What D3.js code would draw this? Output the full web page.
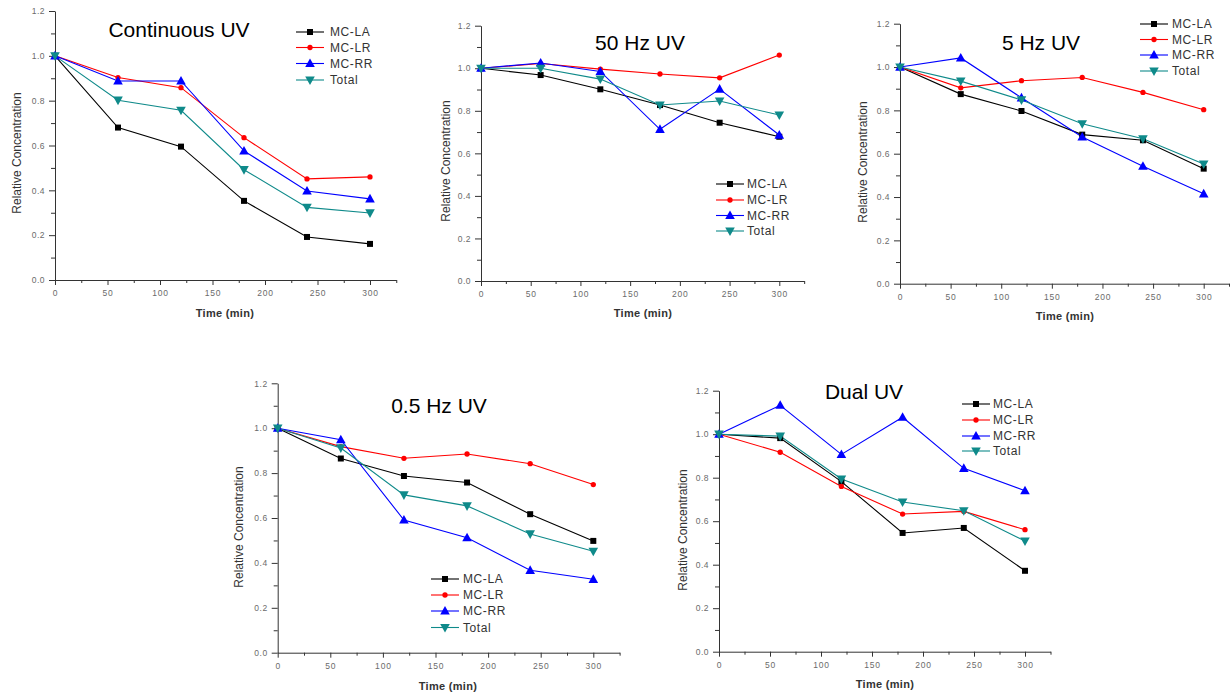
<!DOCTYPE html>
<html>
<head>
<meta charset="utf-8">
<script src="https://cdn.jsdelivr.net/npm/d3@7"></script>
<style>
  html, body { margin: 0; padding: 0; background: #fff; }
  svg { display: block; font-family: "Liberation Sans", Arial, sans-serif; }
</style>
</head>
<body>
<svg id="chart" width="1231" height="698"></svg>
<script>
// ---- data ----
const times = [0, 60, 120, 180, 240, 300];
const seriesNames = ["MC-LA", "MC-LR", "MC-RR", "Total"];
const panelTitles = ["Continuous UV", "50 Hz UV", "5 Hz UV", "0.5 Hz UV", "Dual UV"];
const xTicks = [0, 50, 100, 150, 200, 250, 300];
const xMinorTicks = [25, 75, 125, 175, 225, 275, 325];
const yTicks = [0, 0.2, 0.4, 0.6, 0.8, 1.0, 1.2];
const yMinorTicks = [0.1, 0.3, 0.5, 0.7, 0.9, 1.1];
const yLabel = "Relative Concentration";
const xLabel = "Time (min)";

const contLA    = [1.0, 0.680, 0.595, 0.353, 0.192, 0.161];
const contLR    = [1.0, 0.903, 0.858, 0.635, 0.451, 0.460];
const contRR    = [1.0, 0.888, 0.888, 0.576, 0.397, 0.362];
const contTotal = [1.0, 0.802, 0.757, 0.492, 0.324, 0.299];

const hz50LA    = [1.0, 0.968, 0.901, 0.827, 0.744, 0.678];
const hz50LR    = [1.0, 1.022, 0.996, 0.973, 0.955, 1.062];
const hz50RR    = [1.0, 1.025, 0.985, 0.713, 0.902, 0.686];
const hz50Total = [1.0, 1.000, 0.949, 0.827, 0.846, 0.780];

const hz5LA     = [1.0, 0.875, 0.797, 0.688, 0.662, 0.531];
const hz5LR     = [1.0, 0.904, 0.937, 0.952, 0.883, 0.803];
const hz5RR     = [1.0, 1.042, 0.858, 0.677, 0.542, 0.415];
const hz5Total  = [1.0, 0.935, 0.848, 0.738, 0.669, 0.552];

const hz05LA    = [1.0, 0.865, 0.787, 0.758, 0.617, 0.498];
const hz05LR    = [1.0, 0.918, 0.866, 0.885, 0.842, 0.749];
const hz05RR    = [1.0, 0.949, 0.591, 0.512, 0.367, 0.327];
const hz05Total = [1.0, 0.912, 0.703, 0.654, 0.529, 0.452];

const dualLA    = [1.0, 0.982, 0.782, 0.546, 0.569, 0.372];
const dualLR    = [1.0, 0.917, 0.760, 0.633, 0.645, 0.561];
const dualRR    = [1.0, 1.133, 0.907, 1.078, 0.843, 0.740];
const dualTotal = [1.0, 0.991, 0.794, 0.688, 0.648, 0.509];

// ---- styles / layout ----
const colors = ["#000000", "#ff0000", "#0000ff", "#0f8a8a"];
const markers = ["square", "circle", "triUp", "triDown"];

const panels = [
  { title: panelTitles[0], data: [contLA, contLR, contRR, contTotal],
    x0: 55, x300: 370, yb: 280, yt: 11,
    titlePos: [179, 37], yLab: [17, 153], xLab: [225, 313],
    legend: { lx: 296, tx: 330, ys: [32, 47.5, 63.5, 80] } },
  { title: panelTitles[1], data: [hz50LA, hz50LR, hz50RR, hz50Total],
    x0: 481, x300: 779.3, yb: 281, yt: 25.7,
    titlePos: [640, 50], yLab: [446, 161], xLab: [643, 313],
    legend: { lx: 716, tx: 747, ys: [184, 200, 215.5, 231] } },
  { title: panelTitles[2], data: [hz5LA, hz5LR, hz5RR, hz5Total],
    x0: 900, x300: 1203.7, yb: 283.7, yt: 23.7,
    titlePos: [1041, 50], yLab: [863, 162], xLab: [1065, 316],
    legend: { lx: 1140, tx: 1172, ys: [24, 39.5, 55, 71] } },
  { title: panelTitles[3], data: [hz05LA, hz05LR, hz05RR, hz05Total],
    x0: 277.7, x300: 593.3, yb: 652.7, yt: 383.3,
    titlePos: [439, 412.5], yLab: [238.5, 527], xLab: [448, 686],
    legend: { lx: 431, tx: 463, ys: [579, 595, 611, 627.5] } },
  { title: panelTitles[4], data: [dualLA, dualLR, dualRR, dualTotal],
    x0: 719, x300: 1025, yb: 651.7, yt: 390.7,
    titlePos: [864, 399], yLab: [682.5, 530], xLab: [885, 684],
    legend: { lx: 962, tx: 993, ys: [404, 420, 436, 451] } }
];

const svg = d3.select("#chart");

function markerPath(type) {
  if (type === "square") return "M-3,-3H3V3H-3Z";
  if (type === "circle") return d3.symbol(d3.symbolCircle, 22)();
  if (type === "triUp") return "M0,-5L4.8,3.6L-4.8,3.6Z";
  return "M0,5L4.8,-3.6L-4.8,-3.6Z";
}

panels.forEach(p => {
  const k = (p.x300 - p.x0) / 300;
  const x = d3.scaleLinear().domain([0, 325]).range([p.x0, p.x0 + 325 * k]);
  const y = d3.scaleLinear().domain([0, 1.2]).range([p.yb, p.yt]);
  const g = svg.append("g");

  // x axis minor
  g.append("g").attr("transform", `translate(0,${p.yb})`)
    .call(d3.axisBottom(x).tickValues(xMinorTicks).tickSize(3).tickFormat(""))
    .call(s => s.select(".domain").remove())
    .call(s => s.selectAll("line").attr("stroke", "#333"));
  // x axis major
  const xa = g.append("g").attr("transform", `translate(0,${p.yb})`)
    .call(d3.axisBottom(x).tickValues(xTicks).tickSize(5).tickSizeOuter(0).tickPadding(5).tickFormat(d3.format("d")));
  xa.select(".domain").attr("stroke", "#333");
  xa.selectAll("line").attr("stroke", "#333");
  xa.selectAll("text").attr("fill", "#6b6b6b").style("font-size", "8.5px").style("letter-spacing", "0.8px");

  // y axis minor
  g.append("g").attr("transform", `translate(${p.x0},0)`)
    .call(d3.axisLeft(y).tickValues(yMinorTicks).tickSize(4).tickFormat(""))
    .call(s => s.select(".domain").remove())
    .call(s => s.selectAll("line").attr("stroke", "#333"));
  // y axis major
  const ya = g.append("g").attr("transform", `translate(${p.x0},0)`)
    .call(d3.axisLeft(y).tickValues(yTicks).tickSize(6).tickSizeOuter(0).tickPadding(4).tickFormat(d3.format(".1f")));
  ya.select(".domain").attr("stroke", "#333");
  ya.selectAll("line").attr("stroke", "#333");
  ya.selectAll("text").attr("fill", "#6b6b6b").style("font-size", "8.5px").style("letter-spacing", "0.5px");

  // axis labels
  g.append("text")
    .attr("transform", `translate(${p.yLab[0]},${p.yLab[1]}) rotate(-90)`)
    .attr("text-anchor", "middle").attr("dominant-baseline", "central")
    .attr("fill", "#333").style("font-size", "12px")
    .text(yLabel);
  g.append("text")
    .attr("x", p.xLab[0]).attr("y", p.xLab[1])
    .attr("text-anchor", "middle").attr("dominant-baseline", "central")
    .attr("fill", "#333").style("font-size", "11px").style("font-weight", "bold")
    .style("letter-spacing", "0.3px")
    .text(xLabel);

  // title
  g.append("text")
    .attr("x", p.titlePos[0]).attr("y", p.titlePos[1])
    .attr("text-anchor", "middle")
    .attr("fill", "#000").style("font-size", "21px")
    .text(p.title);

  // series
  const line = d3.line().x((d, i) => x(times[i])).y(d => y(d));
  p.data.forEach((vals, si) => {
    g.append("path").datum(vals)
      .attr("d", line).attr("fill", "none")
      .attr("stroke", colors[si]).attr("stroke-width", 1.1);
  });
  p.data.forEach((vals, si) => {
    g.selectAll(null).data(vals).enter().append("path")
      .attr("transform", (d, i) => `translate(${x(times[i])},${y(d)})`)
      .attr("d", markerPath(markers[si]))
      .attr("fill", colors[si]);
  });

  // legend
  const L = p.legend;
  seriesNames.forEach((name, si) => {
    const ly = L.ys[si];
    g.append("line").attr("x1", L.lx).attr("x2", L.lx + 28)
      .attr("y1", ly).attr("y2", ly)
      .attr("stroke", colors[si]).attr("stroke-width", 1.1);
    g.append("path")
      .attr("transform", `translate(${L.lx + 14},${ly})`)
      .attr("d", markerPath(markers[si]))
      .attr("fill", colors[si]);
    g.append("text").attr("x", L.tx).attr("y", ly)
      .attr("dominant-baseline", "central")
      .attr("fill", "#333").style("font-size", "12px").style("letter-spacing", "0.6px")
      .text(name);
  });
});
</script>
</body>
</html>
